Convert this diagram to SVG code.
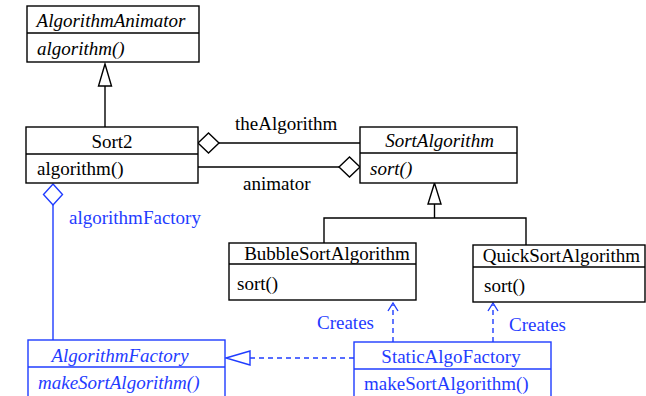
<svg xmlns="http://www.w3.org/2000/svg" width="646" height="396" viewBox="0 0 646 396">
  <style>
    text { font-family: "Liberation Serif", "Times New Roman", serif; font-size: 19px; fill: #000; }
    .it { font-style: italic; }
    .mid { text-anchor: middle; }
    .box { fill: #fff; stroke: #000; stroke-width: 1.4; }
    .ln { fill: none; stroke: #000; stroke-width: 1.4; }
    .blue text, text.blue { fill: #1f3cff; }
    .bbox { fill: #fff; stroke: #1f3cff; stroke-width: 1.4; }
    .bln { fill: none; stroke: #1f3cff; stroke-width: 1.4; }
    .dash { stroke-dasharray: 5 4; }
  </style>

  <!-- connectors -->
  <g id="connectors">
    <!-- Sort2 generalizes AlgorithmAnimator -->
    <line class="ln" x1="105" y1="86" x2="105" y2="127"/>
    <polygon class="ln" points="105,64 98.5,86 111.5,86" fill="#fff"/>

    <!-- theAlgorithm aggregation -->
    <line class="ln" x1="219" y1="143" x2="360" y2="143"/>
    <polygon class="ln" points="198,143 208.5,133 219,143 208.5,153" fill="#fff"/>
    <text x="235" y="130">theAlgorithm</text>

    <!-- animator aggregation -->
    <line class="ln" x1="198" y1="167" x2="339" y2="167"/>
    <polygon class="ln" points="339,167 349.5,157 360,167 349.5,177" fill="#fff"/>
    <text x="243" y="190">animator</text>

    <!-- sort algorithm hierarchy -->
    <polygon class="ln" points="434.5,183 428,204 441,204" fill="#fff"/>
    <line class="ln" x1="434.5" y1="204" x2="434.5" y2="218"/>
    <polyline class="ln" points="324,243 324,218 526,218 526,245"/>

    <!-- algorithmFactory aggregation -->
    <line class="bln" x1="53" y1="205" x2="53" y2="340"/>
    <polygon class="bln" points="53,184 62.5,194.5 53,205 43.5,194.5" fill="#fff"/>
    <text class="blue" x="69" y="224">algorithmFactory</text>

    <!-- StaticAlgoFactory realizes AlgorithmFactory -->
    <line class="bln dash" x1="250" y1="358" x2="354" y2="358"/>
    <polygon class="bln" points="226,358 250,351 250,365" fill="#fff"/>

    <!-- Creates dependencies -->
    <line class="bln dash" x1="393" y1="342" x2="393" y2="305"/>
    <polyline class="bln" points="388,311 393,303 398,311"/>
    <text class="blue" x="317" y="329">Creates</text>

    <line class="bln dash" x1="493" y1="342" x2="493" y2="305"/>
    <polyline class="bln" points="488,311 493,303 498,311"/>
    <text class="blue" x="509" y="331">Creates</text>
  </g>

  <g id="AlgorithmAnimator">
    <rect class="box" x="27" y="6" width="172" height="56"/>
    <line class="ln" x1="27" y1="33" x2="199" y2="33"/>
    <text class="it mid" x="111" y="27">AlgorithmAnimator</text>
    <text class="it" x="37" y="55">algorithm()</text>
  </g>

  <g id="Sort2">
    <rect class="box" x="26" y="127" width="172" height="56"/>
    <line class="ln" x1="26" y1="154" x2="198" y2="154"/>
    <text class="mid" x="112" y="148">Sort2</text>
    <text x="37" y="175">algorithm()</text>
  </g>

  <g id="SortAlgorithm">
    <rect class="box" x="360" y="127" width="157" height="56"/>
    <line class="ln" x1="360" y1="153" x2="517" y2="153"/>
    <text class="it mid" x="439.5" y="147">SortAlgorithm</text>
    <text class="it" x="370" y="175">sort()</text>
  </g>

  <g id="BubbleSortAlgorithm">
    <rect class="box" x="229" y="243" width="187" height="57"/>
    <line class="ln" x1="229" y1="264" x2="416" y2="264"/>
    <text class="mid" x="327" y="260">BubbleSortAlgorithm</text>
    <text x="237" y="290">sort()</text>
  </g>

  <g id="QuickSortAlgorithm">
    <rect class="box" x="473" y="245" width="172" height="57"/>
    <line class="ln" x1="473" y1="267" x2="645" y2="267"/>
    <text class="mid" x="561.5" y="262">QuickSortAlgorithm</text>
    <text x="484" y="292">sort()</text>
  </g>

  <g id="AlgorithmFactory" class="blue">
    <rect class="bbox" x="28" y="340" width="197" height="70"/>
    <line class="bln" x1="28" y1="367" x2="225" y2="367"/>
    <text class="it mid" x="120" y="362">AlgorithmFactory</text>
    <text class="it" x="38" y="389">makeSortAlgorithm()</text>
  </g>

  <g id="StaticAlgoFactory" class="blue">
    <rect class="bbox" x="354" y="342" width="197" height="70"/>
    <line class="bln" x1="354" y1="369" x2="551" y2="369"/>
    <text class="mid" x="451" y="363">StaticAlgoFactory</text>
    <text x="364" y="390">makeSortAlgorithm()</text>
  </g>
</svg>
